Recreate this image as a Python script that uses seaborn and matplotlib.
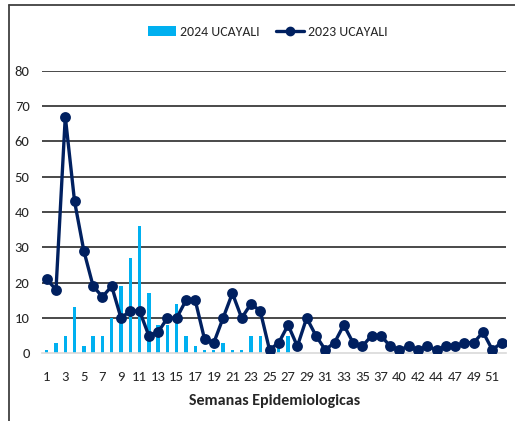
import matplotlib
matplotlib.use('Agg')
import matplotlib.pyplot as plt
from matplotlib.patches import Patch
from matplotlib.lines import Line2D
import seaborn as sns

# epidemiological weeks shown on the x axis (39 and 46 are absent in the source)
weeks = [str(w) for w in list(range(1, 39)) + list(range(40, 46)) + list(range(47, 53))]

# 2024 UCAYALI (bars, reported up to week 27)
cases_2024 = [1, 3, 5, 13, 2, 5, 5, 10, 19, 27, 36, 17, 8, 8, 14, 5, 2, 1, 1, 3,
              1, 1, 5, 5, 1, 3, 5]

# 2023 UCAYALI (line)
cases_2023 = [21, 18, 67, 43, 29, 19, 16, 19, 10, 12, 12, 5, 6, 10, 10, 15, 15, 4, 3, 10,
              17, 10, 14, 12, 1, 3, 8, 2, 10, 5, 1, 3, 8, 3, 2, 5, 5, 2, 1, 2,
              1, 2, 1, 2, 2, 3, 3, 6, 1, 3]

yticks = [0, 10, 20, 30, 40, 50, 60, 70, 80]

sns.set_style('white')
plt.rcParams['font.family'] = ['Carlito', 'DejaVu Sans']

bar_color = '#00B0F0'
line_color = '#002060'

fig = plt.figure(figsize=(5.15, 4.21), dpi=100)
ax = fig.add_axes([0.0817, 0.1608, 0.9013, 0.6712])

sns.barplot(x=weeks[:len(cases_2024)], y=cases_2024, order=weeks, color=bar_color,
            width=0.36, saturation=1, linewidth=0, ax=ax, zorder=2)
sns.pointplot(x=weeks, y=cases_2023, order=weeks, color=line_color, markers='o',
              markersize=6, linewidth=2.4, errorbar=None, ax=ax, zorder=3)

ax.set_xlim(-0.5, len(weeks) - 0.5)
ax.set_ylim(0, 80)
ax.set_yticks(yticks)
ax.set_yticklabels([str(v) for v in yticks], fontsize=10.5)
ax.set_xticks(range(0, len(weeks), 2))
ax.set_xticklabels(weeks[::2], fontsize=10.5)
ax.tick_params(axis='both', length=0)
ax.tick_params(axis='y', pad=9)
ax.tick_params(axis='x', pad=13)

for v in yticks[1:]:
    ax.axhline(v, color='#3a3a3a', linewidth=1.3, zorder=1)

for side in ['left', 'right', 'top']:
    ax.spines[side].set_visible(False)
ax.spines['bottom'].set_color('#d9d9d9')
ax.spines['bottom'].set_linewidth(1.2)

ax.set_xlabel('Semanas Epidemiologicas', fontsize=11.5, fontweight='bold', labelpad=8)
ax.set_ylabel('')

handles = [Patch(facecolor=bar_color, edgecolor='none', label='2024 UCAYALI'),
           Line2D([], [], color=line_color, linewidth=2.4, marker='o', markersize=6,
                  label='2023 UCAYALI')]
fig.legend(handles=handles, loc='center', bbox_to_anchor=(0.52, 0.924), ncol=2,
           frameon=False, fontsize=10, handlelength=2.0, handleheight=0.75,
           handletextpad=0.3, columnspacing=1.2)

# outer chart frame (left and top edges visible)
fig.add_artist(Line2D([9 / 515, 9 / 515], [0, 1 - 5 / 421], color='#404040', linewidth=1.3))
fig.add_artist(Line2D([9 / 515, 1], [1 - 5 / 421, 1 - 5 / 421], color='#404040', linewidth=1.3))

fig.savefig('out.png', dpi=100)
plt.close(fig)
